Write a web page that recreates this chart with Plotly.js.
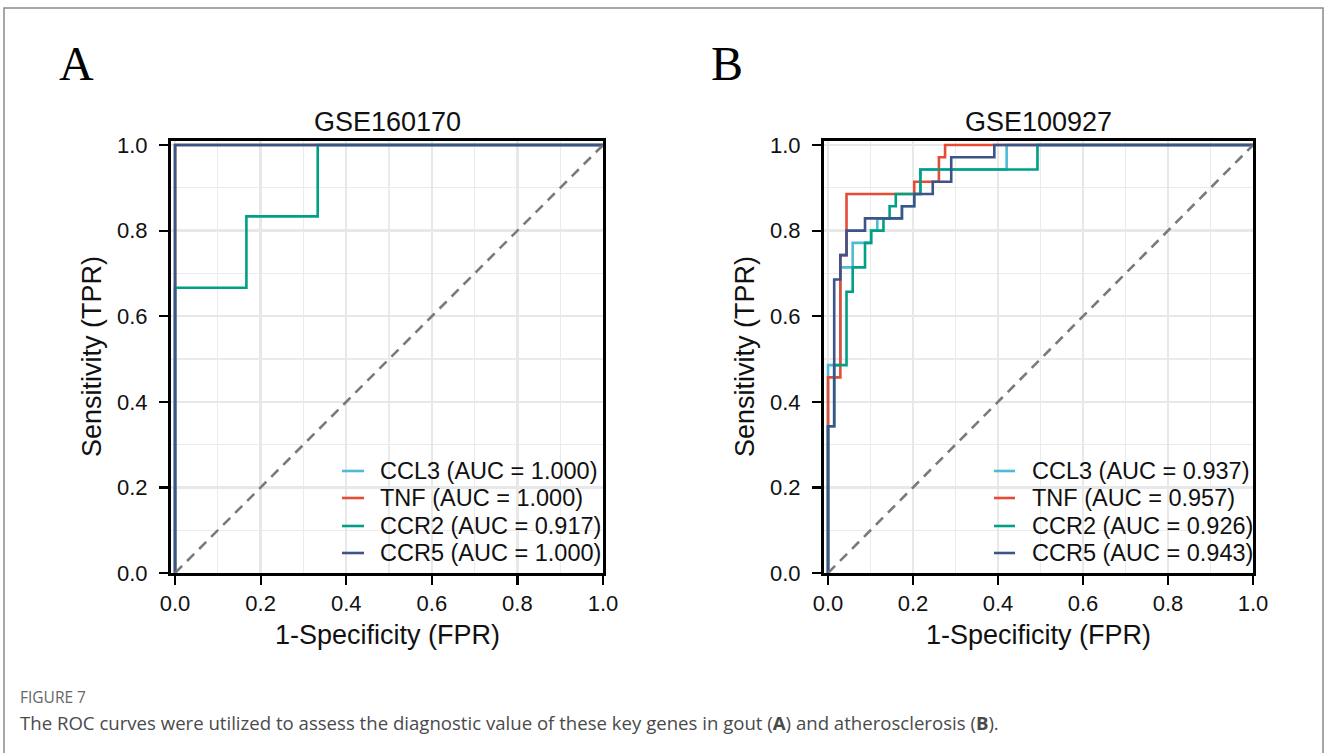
<!DOCTYPE html>
<html>
<head>
<meta charset="utf-8">
<script src="https://cdn.plot.ly/plotly-3.0.1.min.js"></script>
<style>
html,body{margin:0;padding:0;background:#fff;}
#chart{width:1328px;height:753px;}
</style>
</head>
<body>
<div id="chart"></div>
<script>
// ---------------- DATA ----------------
const genes = ["CCL3", "TNF", "CCR2", "CCR5"];
const colors = ["#4DBBD5", "#E64B35", "#00A087", "#3C5488"];

// Panel A: GSE160170
const titleA = "GSE160170";
const aucA = ["1.000", "1.000", "0.917", "1.000"];
const fprA_CCL3 = [0, 0, 1];
const tprA_CCL3 = [0, 1, 1];
const fprA_TNF = [0, 0, 1];
const tprA_TNF = [0, 1, 1];
const fprA_CCR2 = [0, 0, 0.1667, 0.1667, 0.3333, 0.3333, 1];
const tprA_CCR2 = [0, 0.6667, 0.6667, 0.8333, 0.8333, 1, 1];
const fprA_CCR5 = [0, 0, 1];
const tprA_CCR5 = [0, 1, 1];

// Panel B: GSE100927
const titleB = "GSE100927";
const aucB = ["0.937", "0.957", "0.926", "0.943"];
const fprB_CCL3 = [0, 0, 0.0290, 0.0290, 0.0580, 0.0580, 0.1014, 0.1014, 0.1159, 0.1159, 0.1739, 0.1739, 0.2029, 0.2029, 0.2174, 0.2174, 0.4203, 0.4203, 1];
const tprB_CCL3 = [0, 0.4857, 0.4857, 0.7143, 0.7143, 0.7714, 0.7714, 0.8000, 0.8000, 0.8286, 0.8286, 0.8571, 0.8571, 0.8857, 0.8857, 0.9429, 0.9429, 1, 1];
const fprB_TNF = [0, 0, 0.0290, 0.0290, 0.0435, 0.0435, 0.2029, 0.2029, 0.2609, 0.2609, 0.2754, 0.2754, 1];
const tprB_TNF = [0, 0.4571, 0.4571, 0.7429, 0.7429, 0.8857, 0.8857, 0.9143, 0.9143, 0.9714, 0.9714, 1, 1];
const fprB_CCR2 = [0, 0, 0.0145, 0.0145, 0.0435, 0.0435, 0.0580, 0.0580, 0.0870, 0.0870, 0.1014, 0.1014, 0.1304, 0.1304, 0.1449, 0.1449, 0.1594, 0.1594, 0.2174, 0.2174, 0.4928, 0.4928, 1];
const tprB_CCR2 = [0, 0.3429, 0.3429, 0.4857, 0.4857, 0.6571, 0.6571, 0.7143, 0.7143, 0.7714, 0.7714, 0.8000, 0.8000, 0.8286, 0.8286, 0.8571, 0.8571, 0.8857, 0.8857, 0.9429, 0.9429, 1, 1];
const fprB_CCR5 = [0, 0, 0.0145, 0.0145, 0.0290, 0.0290, 0.0435, 0.0435, 0.0870, 0.0870, 0.1739, 0.1739, 0.2029, 0.2029, 0.2464, 0.2464, 0.2899, 0.2899, 0.3913, 0.3913, 1];
const tprB_CCR5 = [0, 0.3429, 0.3429, 0.6857, 0.6857, 0.7429, 0.7429, 0.8000, 0.8000, 0.8286, 0.8286, 0.8571, 0.8571, 0.8857, 0.8857, 0.9143, 0.9143, 0.9714, 0.9714, 1, 1];

const diagX = [0, 1];
const diagY = [0, 1];

const tickVals = [0, 0.2, 0.4, 0.6, 0.8, 1.0];
const tickText = ["0.0", "0.2", "0.4", "0.6", "0.8", "1.0"];
const xTitle = "1-Specificity (FPR)";
const yTitle = "Sensitivity (TPR)";
const captionHead = "FIGURE 7";
const captionText = "The ROC curves were utilized to assess the diagnostic value of these key genes in gout (<b>A</b>) and atherosclerosis (<b>B</b>).";

// ---------------- LAYOUT HELPERS ----------------
const W = 1328, H = 753;
const PX = v => v / W;
const PY = v => 1 - v / H;
const SANS = "Liberation Sans, Arial, sans-serif";

const panels = [
  {xa: "x", ya: "y", xl: 171, xr: 603, title: titleA, letter: "A", letterX: 76, auc: aucA,
   fpr: [fprA_CCL3, fprA_TNF, fprA_CCR2, fprA_CCR5], tpr: [tprA_CCL3, tprA_TNF, tprA_CCR2, tprA_CCR5],
   legLine: [342, 364], legText: 378, yTitleX: 92},
  {xa: "x2", ya: "y2", xl: 824, xr: 1253, title: titleB, letter: "B", letterX: 727, auc: aucB,
   fpr: [fprB_CCL3, fprB_TNF, fprB_CCR2, fprB_CCR5], tpr: [tprB_CCL3, tprB_TNF, tprB_CCR2, tprB_CCR5],
   legLine: [994, 1015], legText: 1030, yTitleX: 745}
];
const plotTop = 141, plotBot = 573;
const legRows = [471, 498, 526, 553];

const traces = [];
const annotations = [];
const shapes = [];

panels.forEach(p => {
  genes.forEach((g, i) => {
    traces.push({
      type: "scatter", mode: "lines", x: p.fpr[i], y: p.tpr[i],
      xaxis: p.xa, yaxis: p.ya, name: g + " (AUC = " + p.auc[i] + ")",
      line: {color: colors[i], width: 2.6}, showlegend: false, hoverinfo: "skip"
    });
    shapes.push({type: "line", xref: "paper", yref: "paper",
      x0: PX(p.legLine[0]), x1: PX(p.legLine[1]), y0: PY(legRows[i]), y1: PY(legRows[i]),
      line: {color: colors[i], width: 2.6}});
    annotations.push({xref: "paper", yref: "paper", x: PX(p.legText), y: PY(legRows[i]),
      xanchor: "left", yanchor: "middle", showarrow: false,
      text: g + " (AUC = " + p.auc[i] + ")", font: {family: SANS, size: 23.5, color: "#111"}});
  });
  traces.push({
    type: "scatter", mode: "lines", x: diagX, y: diagY, xaxis: p.xa, yaxis: p.ya,
    line: {color: "#7a7a7a", width: 2.6, dash: "10px,7px"}, showlegend: false, hoverinfo: "skip"
  });
  const cx = (p.xl + p.xr) / 2;
  annotations.push({xref: "paper", yref: "paper", x: PX(cx), y: PY(122), xanchor: "center", yanchor: "middle",
    showarrow: false, text: p.title, font: {family: SANS, size: 27, color: "#111"}});
  annotations.push({xref: "paper", yref: "paper", x: PX(cx), y: PY(635), xanchor: "center", yanchor: "middle",
    showarrow: false, text: xTitle, font: {family: SANS, size: 27, color: "#111"}});
  annotations.push({xref: "paper", yref: "paper", x: PX(p.yTitleX), y: PY((plotTop + plotBot) / 2), xanchor: "center", yanchor: "middle",
    showarrow: false, textangle: -90, text: yTitle, font: {family: SANS, size: 27, color: "#111"}});
  annotations.push({xref: "paper", yref: "paper", x: PX(p.letterX), y: PY(63), xanchor: "center", yanchor: "middle",
    showarrow: false, text: p.letter, font: {family: "Liberation Serif, Times New Roman, serif", size: 48, color: "#000"}});
});

annotations.push({xref: "paper", yref: "paper", x: PX(18), y: PY(697), xanchor: "left", yanchor: "middle",
  showarrow: false, text: captionHead, font: {family: "Open Sans, sans-serif", size: 15.5, color: "#666"}});
annotations.push({xref: "paper", yref: "paper", x: PX(18), y: PY(722), xanchor: "left", yanchor: "middle",
  showarrow: false, text: captionText, font: {family: "Open Sans, sans-serif", size: 18.6, color: "#4a4a4a"}});

// page border
shapes.push({type: "path", xref: "paper", yref: "paper",
  path: "M " + PX(4) + " " + PY(800) + " L " + PX(4) + " " + PY(8) + " L " + PX(1323) + " " + PY(8) + " L " + PX(1323) + " " + PY(800),
  line: {color: "#8a8a8a", width: 1.5}});

function axisCommon(domain, isY) {
  return {
    domain: domain, range: isY ? [0, 1.0095] : [-0.0095, 1.0], tickvals: tickVals, ticktext: tickText,
    ticks: "outside", ticklen: 9, tickwidth: 2.2, tickcolor: "#000",
    ticklabelstandoff: isY ? 7 : 0,
    showline: true, mirror: true, linecolor: "#000", linewidth: 3,
    showgrid: true, gridcolor: "#E8E8E8", gridwidth: 2.4, zeroline: false,
    minor: {dtick: 0.1, tick0: 0, showgrid: true, gridcolor: "#EBEBEB", gridwidth: 1.2},
    tickfont: {family: SANS, size: 22, color: "#111"}, fixedrange: true
  };
}
const yDom = [1 - plotBot / H, 1 - plotTop / H];

const layout = {
  width: W, height: H, margin: {l: 0, r: 0, t: 0, b: 0},
  paper_bgcolor: "#fff", plot_bgcolor: "#fff", showlegend: false,
  xaxis: Object.assign(axisCommon([PX(171), PX(603)], false), {anchor: "y"}),
  yaxis: Object.assign(axisCommon(yDom, true), {anchor: "x"}),
  xaxis2: Object.assign(axisCommon([PX(824), PX(1253)], false), {anchor: "y2"}),
  yaxis2: Object.assign(axisCommon(yDom, true), {anchor: "x2"}),
  annotations: annotations, shapes: shapes
};

Plotly.newPlot("chart", traces, layout, {displayModeBar: false, staticPlot: true});
</script>
</body>
</html>
